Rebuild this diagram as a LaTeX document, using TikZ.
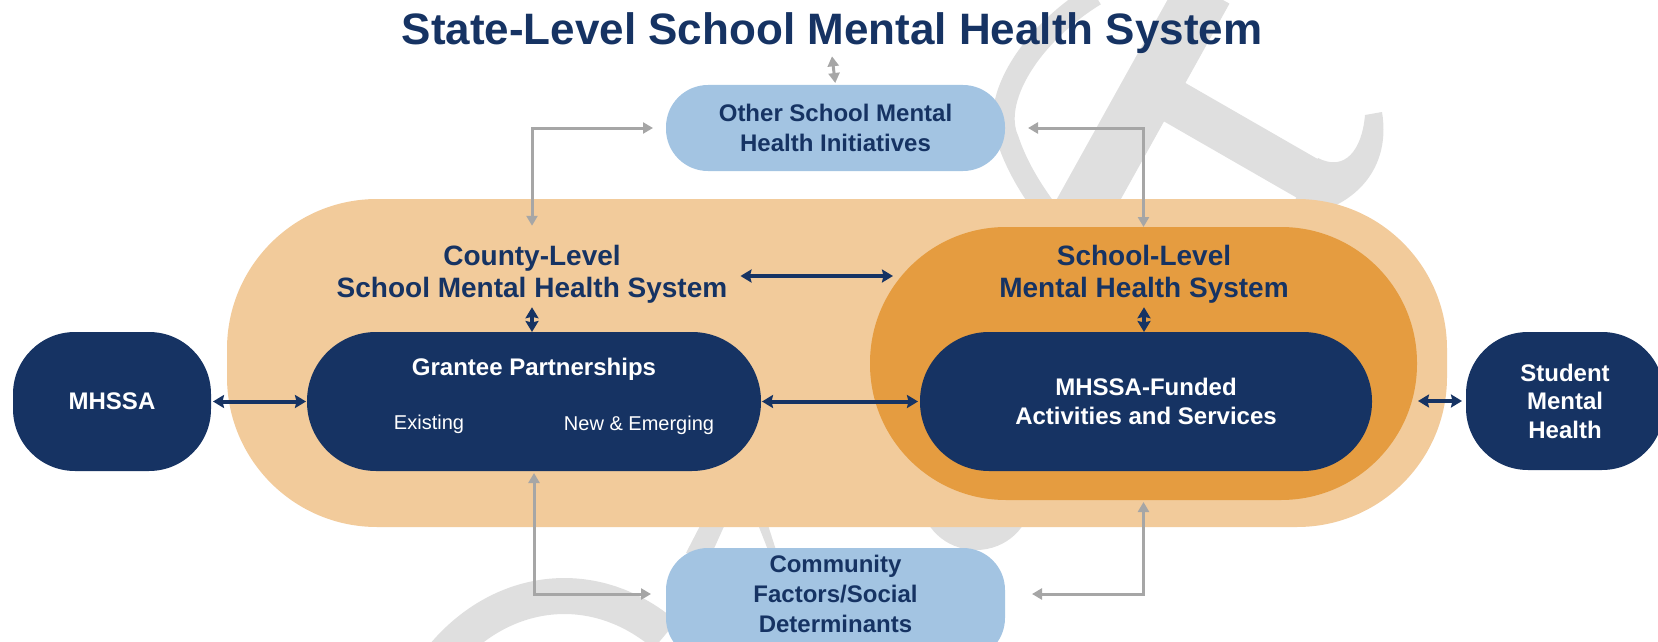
\documentclass[tikz,border=0pt]{standalone}
\usepackage{fontspec}
\setmainfont{Liberation Sans}
\usetikzlibrary{arrows.meta,calc}
\definecolor{navy}{HTML}{163363}
\definecolor{lblue}{HTML}{A3C4E2}
\definecolor{lorange}{HTML}{F2CB9B}
\definecolor{dorange}{HTML}{E59C40}
\definecolor{agray}{HTML}{A6A6A6}
\definecolor{wmgray}{HTML}{DFDFDF}
\newcommand{\myfs}[2]{\fontsize{#1}{#2}\selectfont}
\begin{document}
\begin{tikzpicture}[x=1pt,y=-1pt,
  shapebox/.style={inner sep=0pt, outer sep=0pt},
  navybox/.style={shapebox, fill=navy, text=white, font=\bfseries\myfs{24}{28.5}, align=center},
  bluebox/.style={shapebox, fill=lblue, text=navy, font=\bfseries\myfs{24}{29.5}, align=center},
  headtxt/.style={text=navy, font=\bfseries\myfs{28}{32}, align=center, inner sep=4pt},
  navyarr/.style={draw=navy, line width=4pt, {Stealth[length=11pt,width=13pt,inset=1.5pt]}-{Stealth[length=11pt,width=13pt,inset=1.5pt]}},
  grayarr/.style={draw=agray, line width=3pt, {Triangle[length=10pt,width=11pt]}-{Triangle[length=10pt,width=11pt]}}
]
\useasboundingbox (0,0) rectangle (1658,642);

% watermark
\begin{scope}[color=wmgray]
\draw[line width=22pt] (1095,-5) .. controls (1030,35) and (990,100) .. (1008,140) .. controls (1018,170) and (1035,195) .. (1050,215);
\draw[line width=56pt] (1205,-10) -- (1080,215);
\draw[line width=44pt] (1150,88) -- (1310,180);
\fill (1318,158) .. controls (1345,172) and (1362,150) .. (1365,115) -- (1382,112) .. controls (1390,160) and (1365,195) .. (1325,210) -- (1295,200) -- cycle;
\draw[line width=36pt] (440,660) .. controls (500,585) and (595,575) .. (665,635);
\fill (686,553) -- (702,522) -- (726,522) -- (712,553) -- cycle;
\fill (757,522) -- (768,550) -- (776,550) -- (767,522) -- cycle;
\fill (976,498) ellipse[x radius=55pt, y radius=52pt];
\end{scope}

% containers
\node[shapebox, fill=lorange, minimum width=1220pt, minimum height=328pt, rounded corners=150pt] (county) at (837,363) {};
\node[shapebox, fill=dorange, minimum width=547pt, minimum height=273pt, rounded corners=136pt] (school) at (1143.5,363.5) {};

% boxes
\node[navybox, minimum width=198pt, minimum height=139pt, rounded corners=62pt] (mhssa) at (112,401.5) {MHSSA};
\node[navybox, minimum width=454pt, minimum height=139pt, rounded corners=69pt] (grantee) at (534,401.5) {};
\node[navybox, minimum width=452pt, minimum height=139pt, rounded corners=69pt] (funded) at (1146,401.5) {MHSSA-Funded\\Activities and Services};
\node[navybox, minimum width=198pt, minimum height=138pt, rounded corners=62pt] (student) at (1565,401) {Student\\Mental\\Health};
\node[bluebox, minimum width=339pt, minimum height=86pt, rounded corners=42pt] (other) at (835.5,128) {Other School Mental\\Health Initiatives};
\node[bluebox, minimum width=339pt, minimum height=112pt, rounded corners=42pt, anchor=north] (community) at (835.5,548) {};

% texts
\node[text=navy, font=\bfseries\myfs{44}{50}, anchor=base, inner sep=2pt] (title) at (832,45) {State-Level School Mental Health System};
\node[headtxt] (countytxt) at (532,274) {County-Level\\School Mental Health System};
\node[headtxt] (schooltxt) at (1144,274) {School-Level\\Mental Health System};
\node[text=white, font=\bfseries\myfs{24}{28}] (gp) at (534,369) {Grantee Partnerships};
\node[text=white, font=\myfs{20}{24}] (ex) at (429,424) {Existing};
\node[text=white, font=\myfs{20}{24}] (ne) at (639,425) {New \& Emerging};
\node[text=navy, font=\bfseries\myfs{24}{30}, align=center] (commtxt) at (835.5,594) {Community\\Factors/Social\\Determinants};

% navy connectors
\draw[navyarr] ($(countytxt.east)+(9,2)$) -- ($(countytxt.east -| school.west)+(23,2)$);
\draw[navyarr] (countytxt.south) -- (countytxt.south |- grantee.north);
\draw[navyarr] (schooltxt.south) -- (schooltxt.south |- funded.north);
\draw[navyarr, shorten <=2pt, shorten >=1pt] (mhssa.east) -- (grantee.west);
\draw[navyarr, shorten <=1pt, shorten >=2pt] (grantee.east) -- (funded.west);
\draw[navyarr, shorten <=4pt, shorten >=1pt] (student.west) -- (student.west -| school.east);

% gray connectors
\draw[grayarr, shorten >=2pt] (title.south) -- (other.north);
\draw[grayarr, shorten <=13pt, shorten >=15pt] (other.west) -| (countytxt.north);
\draw[grayarr, shorten <=23pt] (other.east) -| (school.north);
\draw[grayarr, shorten <=15pt, shorten >=2pt] (community.west |- commtxt) -| (grantee.south);
\draw[grayarr, shorten <=27pt, shorten >=2pt] (community.east |- commtxt) -| (school.south);
\end{tikzpicture}
\end{document}
